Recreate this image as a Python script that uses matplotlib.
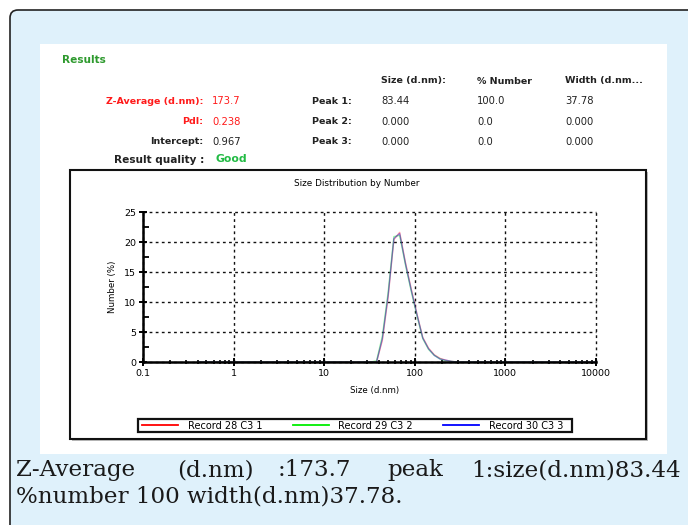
import matplotlib
matplotlib.use('Agg')
import matplotlib.pyplot as plt
from matplotlib.patches import FancyBboxPatch, Rectangle
from matplotlib.ticker import FixedLocator, NullFormatter

# size bins (d.nm) and % number for the three records
sizes = [0.4, 32.67, 37.84, 43.82, 50.75, 58.77, 68.06, 78.82, 91.28, 105.7,
         122.4, 141.8, 164.2, 190.1, 220.2, 255.0, 295.3, 342.0, 10000]
rec28 = [0, 0, 0.0, 3.6, 10.8, 20.4, 21.6, 16.6, 12.2, 8.0,
         4.1, 2.3, 1.2, 0.6, 0.3, 0.1, 0.0, 0, 0]
rec29 = [0, 0, 0.2, 4.3, 11.6, 20.9, 21.1, 16.2, 11.8, 7.7,
         3.9, 2.1, 1.1, 0.5, 0.2, 0.1, 0.0, 0, 0]
rec30 = [0, 0, 0.0, 3.9, 11.1, 20.6, 21.4, 16.4, 12.0, 7.9,
         4.0, 2.2, 1.1, 0.5, 0.3, 0.1, 0.0, 0, 0]
records = ["Record 28 C3 1", "Record 29 C3 2", "Record 30 C3 3"]
rec_colors = ['#ff0000', '#00ee00', '#0000ff']

xticks = [0.1, 1, 10, 100, 1000, 10000]
xticklabels = ["0.1", "1", "10", "100", "1000", "10000"]
yticks = [0, 5, 10, 15, 20, 25]

W, H = 688, 525
fig = plt.figure(figsize=(W / 100, H / 100), dpi=100)
fig.patch.set_facecolor('white')

# overlay in pixel coordinates
bg = fig.add_axes([0, 0, 1, 1])
bg.set_xlim(0, W)
bg.set_ylim(H, 0)
bg.axis('off')

outer = FancyBboxPatch((10, 10), 720, 560, boxstyle="round,pad=0,rounding_size=8",
                       facecolor='#dff1fb', edgecolor='#222222', lw=1.2)
bg.add_patch(outer)
bg.add_patch(Rectangle((40, 44), 627, 410, facecolor='white', edgecolor='none'))

# results header block
sans = 'DejaVu Sans'
lab_fs = 6.8
num_fs = 7.2
bg.text(62, 60, "Results", color='#2e9a2e', fontsize=7.6, fontweight='bold', va='center', family=sans)
for x, t in [(381, "Size (d.nm):"), (477, "% Number"), (565, "Width (d.nm...")]:
    bg.text(x, 81, t, fontsize=lab_fs, fontweight='bold', va='center', family=sans, color='#222222')

left_rows = [("Z-Average (d.nm):", "173.7", '#ff1a1a'),
             ("PdI:", "0.238", '#ff1a1a'),
             ("Intercept:", "0.967", '#222222')]
peak_rows = [("Peak 1:", "83.44", "100.0", "37.78"),
             ("Peak 2:", "0.000", "0.0", "0.000"),
             ("Peak 3:", "0.000", "0.0", "0.000")]
row_y = [101, 122, 142]
for y, (lab, val, col), (pk, s, n, w) in zip(row_y, left_rows, peak_rows):
    bg.text(203, y, lab, color=col, fontsize=lab_fs, fontweight='bold', ha='right', va='center', family=sans)
    bg.text(212, y, val, color=col, fontsize=num_fs, va='center', family=sans)
    bg.text(312, y, pk, fontsize=lab_fs, fontweight='bold', va='center', family=sans, color='#222222')
    bg.text(381, y, s, fontsize=num_fs, va='center', family=sans, color='#222222')
    bg.text(477, y, n, fontsize=num_fs, va='center', family=sans, color='#222222')
    bg.text(565, y, w, fontsize=num_fs, va='center', family=sans, color='#222222')
bg.text(204, 160, "Result quality :", fontsize=7.6, fontweight='bold', ha='right', va='center', family=sans, color='#222222')
bg.text(216, 159, "Good", color='#22bb44', fontsize=7.8, fontweight='bold', va='center', family=sans)

# chart frame with a soft shadow
bg.add_patch(Rectangle((72, 172), 576, 269, facecolor='#bbbbbb', edgecolor='none'))
bg.add_patch(Rectangle((70, 170), 576, 269, facecolor='white', edgecolor='#111111', lw=1.5))
bg.text(357, 184, "Size Distribution by Number", fontsize=6.4, va='center', ha='center', family=sans)
bg.text(375, 391, "Size (d.nm)", fontsize=6.2, va='center', ha='center', family=sans)
bg.text(112, 287, "Number (%)", fontsize=6.2, va='center', ha='center', rotation=90, family=sans)

# legend box
bg.add_patch(Rectangle((138, 419), 434, 13, facecolor='white', edgecolor='#111111', lw=1.6))
for i, (lab, col) in enumerate(zip(records, rec_colors)):
    x0 = 142 + i * 150.5
    bg.plot([x0, x0 + 36], [425, 425], color=col, lw=1.3)
    bg.text(x0 + 46, 426, lab, fontsize=7.0, va='center', family=sans)

# caption
serif = 'DejaVu Serif'
cap_fs = 16.6
cap_col = '#1a1a1a'
words = [(16, "Z-Average", 'left'), (177, "(d.nm)", 'left'), (278, ":173.7", 'left'),
         (387, "peak", 'left'), (681, "1:size(d.nm)83.44", 'right')]
for x, t, ha in words:
    bg.text(x, 470, t, fontsize=cap_fs, ha=ha, va='center', family=serif, color=cap_col)
bg.text(16, 497, "%number 100 width(d.nm)37.78.", fontsize=cap_fs, va='center', family=serif, color=cap_col)

# the distribution plot
ax = fig.add_axes([143 / W, 1 - 362 / H, (596 - 143) / W, (362 - 212) / H])
for y, col in zip([rec28, rec29, rec30], rec_colors):
    ax.plot(sizes, y, color=col, lw=1.0, alpha=0.38)
ax.set_xscale('log')
ax.set_xlim(0.1, 10000)
ax.set_ylim(0, 25)
ax.xaxis.set_major_locator(FixedLocator(xticks))
ax.set_xticklabels(xticklabels)
ax.xaxis.set_minor_locator(FixedLocator([m * 10.0 ** e for e in range(-1, 4) for m in range(2, 10)]))
ax.xaxis.set_minor_formatter(NullFormatter())
ax.set_yticks(yticks)
ax.yaxis.set_minor_locator(FixedLocator([2.5, 7.5, 12.5, 17.5, 22.5]))
ax.grid(True, which='major', color='#111111', linestyle=(0, (2, 2.4)), lw=1.0)
for gl in ax.get_xgridlines() + ax.get_ygridlines():
    gl.set_clip_on(False)
for side in ['top', 'right']:
    ax.spines[side].set_visible(False)
for side in ['left', 'bottom']:
    ax.spines[side].set_linewidth(1.8)
ax.tick_params(which='major', direction='inout', length=6, width=1.4, labelsize=6.8, pad=2)
ax.tick_params(axis='y', which='minor', direction='in', length=4, width=1.3)
ax.tick_params(axis='x', which='minor', direction='inout', length=3, width=1.2)
for lab in ax.get_xticklabels() + ax.get_yticklabels():
    lab.set_family(sans)
ax.set_facecolor('none')

plt.savefig('out.png', dpi=100)
